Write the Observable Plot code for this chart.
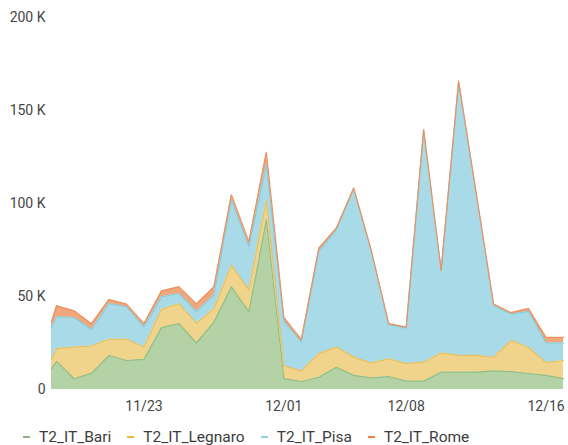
<!DOCTYPE html>
<html>
<head>
<meta charset="utf-8">
<script src="https://cdn.jsdelivr.net/npm/d3@7"></script>
<script src="https://cdn.jsdelivr.net/npm/@observablehq/plot@0.6"></script>
<style>
  html, body { margin: 0; padding: 0; background: #fff; }
  body { width: 568px; height: 445px; overflow: hidden; font-family: Roboto, "Noto Sans", sans-serif; }
  #chart svg { display: block; }
  #legend { display: flex; align-items: center; height: 14px; line-height: 14px; padding-top: 10px; padding-left: 23px; font-size: 15.5px; color: #3c3c3c; white-space: nowrap; }
  .item { display: flex; align-items: center; margin-right: 16px; line-height: 14px; }
  .dash { width: 7px; height: 2px; margin-right: 9px; }
</style>
</head>
<body>
<div id="chart"></div>
<div id="legend"></div>
<script>
const dates = [
  "2020-11-17T17:00Z","2020-11-18T00:00Z","2020-11-19T00:00Z","2020-11-20T00:00Z","2020-11-21T00:00Z",
  "2020-11-22T00:00Z","2020-11-23T00:00Z","2020-11-24T00:00Z","2020-11-25T00:00Z","2020-11-26T00:00Z",
  "2020-11-27T00:00Z","2020-11-28T00:00Z","2020-11-29T00:00Z","2020-11-30T00:00Z","2020-12-01T00:00Z",
  "2020-12-02T00:00Z","2020-12-03T00:00Z","2020-12-04T00:00Z","2020-12-05T00:00Z","2020-12-06T00:00Z",
  "2020-12-07T00:00Z","2020-12-08T00:00Z","2020-12-09T00:00Z","2020-12-10T00:00Z","2020-12-11T00:00Z",
  "2020-12-12T00:00Z","2020-12-13T00:00Z","2020-12-14T00:00Z","2020-12-15T00:00Z","2020-12-16T00:00Z",
  "2020-12-17T00:00Z"
];
const seriesNames = ["T2_IT_Bari", "T2_IT_Legnaro", "T2_IT_Pisa", "T2_IT_Rome"];
const bari    = [11.2,15.1,5.8,8.8,18.3,15.6,16.2,33.3,35.4,25,36.3,55.2,41.7,91.2,5.8,4.3,6.6,12,7.6,6.3,7,4.5,4.5,9.3,9.3,9.3,10,9.6,8.6,7.6,5.8];
const legnaro = [4.8,6.9,17,14.6,8.7,11.4,6.6,9.7,10.8,10.5,7.2,11.7,11.7,10.8,7,5.6,12.7,10.8,9.8,7.9,9.5,9.4,10.2,10.3,9,9,7.3,16.8,14,6.9,9.8];
const pisa    = [17.3,17,15.9,8.8,19.2,17.4,10.8,6.8,5.4,6.5,7.2,35.1,23.4,18.9,24,15.6,54.8,63,90.4,60.1,18.4,19.1,124.6,44.1,147,87.2,27.7,14.1,19.4,10.5,9.4];
const rome    = [3,6,3.6,3.2,2.2,1.5,1.8,3.2,3.6,4,4.5,2.7,2.7,6.6,2,1.3,1.8,0.9,0.5,0.7,0.5,0.5,0.5,0.5,0.5,0.5,1,0.8,1.5,3,3];
const yTicks = [0, 50000, 100000, 150000, 200000];
const xTicks = ["2020-11-23T00:00Z", "2020-12-01T00:00Z", "2020-12-08T00:00Z", "2020-12-16T00:00Z"];

const fills   = ["#b3d2a5", "#f1d48c", "#a8dbe7", "#f1a77c"];
const strokes = ["#93bd82", "#e7c060", "#88cddb", "#eb9161"];
const keyColors = ["#8fb282", "#EAB839", "#8fd3df", "#EF843C"];

const seriesValues = [bari, legnaro, pisa, rome];
const rows = [];
seriesNames.forEach((name, si) => {
  dates.forEach((d, i) => rows.push({date: new Date(d), series: name, value: seriesValues[si][i] * 1000}));
});

const chart = Plot.plot({
  width: 568,
  height: 420,
  marginLeft: 51,
  marginRight: 5,
  marginTop: 17,
  marginBottom: 31,
  style: {fontFamily: "Roboto, 'Noto Sans', sans-serif", fontSize: "14px", color: "#464646", background: "#fff"},
  x: {type: "utc", label: null, domain: [new Date(dates[0]), new Date(dates[dates.length - 1])]},
  y: {label: null, domain: [0, 200000]},
  color: {domain: seriesNames, range: fills},
  marks: [
    Plot.gridY(yTicks, {stroke: "#e6e6e6", strokeOpacity: 1, x1: 51, x2: 568}),
    Plot.gridX(xTicks.map(d => new Date(d)), {stroke: "#e6e6e6", strokeOpacity: 1, y1: 0, y2: 420}),
    Plot.areaY(rows, {x: "date", y: "value", z: "series", fill: "series", fillOpacity: 1, order: seriesNames}),
    Plot.lineY(rows, Plot.stackY2({x: "date", y: "value", z: "series", order: seriesNames,
      stroke: d => strokes[seriesNames.indexOf(d.series)], strokeWidth: 1.2})),
    Plot.axisY(yTicks, {label: null, tickSize: 0, tickPadding: 6, fill: "#464646",
      tickFormat: d => d === 0 ? "0" : (d / 1000) + " K"}),
    Plot.axisX(xTicks.map(d => new Date(d)), {label: null, tickSize: 0, tickPadding: 12, fill: "#464646",
      tickFormat: d3.utcFormat("%m/%d")})
  ]
});
document.getElementById("chart").appendChild(chart);

const legend = document.getElementById("legend");
seriesNames.forEach((name, i) => {
  const item = document.createElement("div");
  item.className = "item";
  const dash = document.createElement("span");
  dash.className = "dash";
  dash.style.background = keyColors[i];
  const label = document.createElement("span");
  label.textContent = name;
  item.appendChild(dash);
  item.appendChild(label);
  legend.appendChild(item);
});
</script>
</body>
</html>
